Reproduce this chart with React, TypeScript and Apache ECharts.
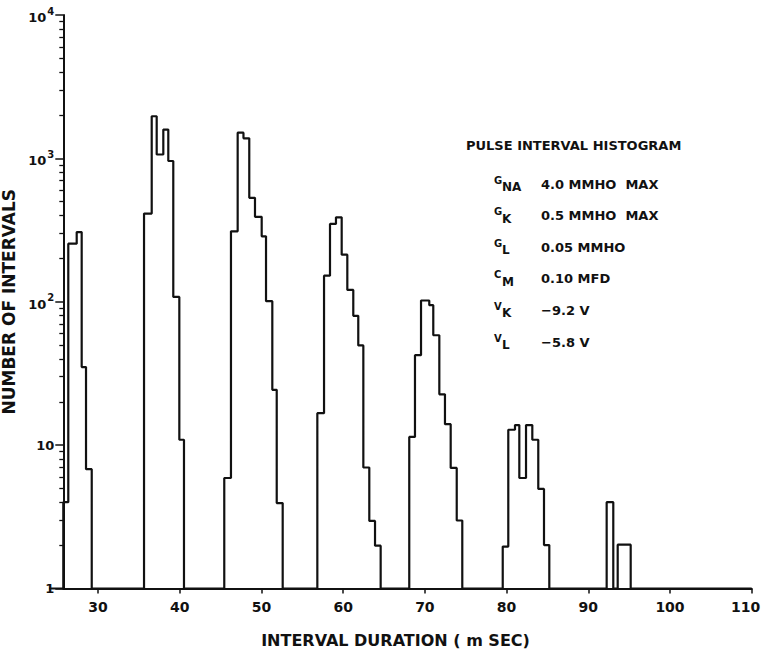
import React, { useEffect, useRef } from 'react';
import * as echarts from 'echarts';

// x tick labels (ms) and y decade ticks
const xTicks = [30, 40, 50, 60, 70, 80, 90, 100, 110];
const yTickValues = [1, 10, 100, 1000, 10000];
const yTickBases = ['1', '10', '10', '10', '10'];
const yTickExps = ['', '', '2', '3', '4'];
// log-paper minor tick multipliers inside each decade
const minorMultipliers = [2, 3, 4, 5, 6, 7, 8, 9];
const minorDecades = [1, 10, 100, 1000];

// histogram bin edges (ms) and counts for each cluster
const c1Edges = [25.75, 26.36, 27.39, 28.0, 28.53, 29.23];
const c1Counts = [4, 254, 306, 35, 6.8];
const c2Edges = [35.63, 36.57, 37.18, 37.99, 38.6, 39.21, 39.95, 40.52];
const c2Counts = [412, 1967, 1064, 1588, 959, 108, 10.9];
const c3Edges = [45.45, 46.27, 47.09, 47.8, 48.51, 49.21, 50.03, 50.56, 51.33, 51.87, 52.6];
const c3Counts = [5.9, 310, 1510, 1380, 531, 391, 286, 101, 24.3, 3.94];
const c4Edges = [56.84, 57.66, 58.39, 59.12, 59.82, 60.51, 61.24, 61.85, 62.47, 63.2, 63.9, 64.59];
const c4Counts = [16.7, 152, 349, 388, 213, 121, 79.8, 49.6, 6.98, 2.96, 1.99];
const c5Edges = [68.09, 68.79, 69.53, 70.54, 71.03, 71.77, 72.46, 73.16, 73.9, 74.58];
const c5Counts = [11.4, 42.4, 102, 94.7, 58.4, 22.6, 14.0, 6.93, 2.98];
const c6Edges = [79.53, 80.21, 81.03, 81.56, 82.38, 83.15, 83.88, 84.58, 85.23];
const c6Counts = [1.96, 12.8, 13.8, 5.9, 13.8, 10.9, 4.95, 2.01];
const c7Edges = [92.25, 93.06, 93.6, 95.19];
const c7Counts = [4.0, 1, 2.02];

const xMin = 25.75;
const xMax = 110;

// annotation text
const annotationTitle = 'PULSE INTERVAL HISTOGRAM';
const paramSymbols = ['G', 'G', 'G', 'C', 'V', 'V'];
const paramSubscripts = ['NA', 'K', 'L', 'M', 'K', 'L'];
const paramValues = ['4.0 MMHO  MAX', '0.5 MMHO  MAX', '0.05 MMHO', '0.10 MFD', '\u22129.2 V', '\u22125.8 V'];

const FONT = '"DejaVu Sans", "Liberation Sans", sans-serif';

function buildSteps(): [number, number][] {
  const clusters: [number[], number[]][] = [
    [c1Edges, c1Counts],
    [c2Edges, c2Counts],
    [c3Edges, c3Counts],
    [c4Edges, c4Counts],
    [c5Edges, c5Counts],
    [c6Edges, c6Counts],
    [c7Edges, c7Counts],
  ];
  const pts: [number, number][] = [[xMin, 1]];
  for (const [edges, counts] of clusters) {
    for (let i = 0; i < counts.length; i++) pts.push([edges[i], counts[i]]);
    pts.push([edges[edges.length - 1], 1]);
  }
  pts.push([xMax, 1]);
  return pts;
}

const GRID = { left: 63.3, right: 11.3, top: 15, bottom: 62.5 };

export default function App() {
  const ref = useRef<HTMLDivElement>(null);
  useEffect(() => {
    if (!ref.current) return;
    const chart = echarts.init(ref.current, null, { renderer: 'svg' });
    const rowY0 = 184;
    const rowStep = 31.6;
    const baseY = 651 - GRID.bottom;
    const graphics: any[] = [
      {
        type: 'line',
        shape: { x1: 49, y1: baseY, x2: GRID.left, y2: baseY },
        style: { stroke: '#111', lineWidth: 2 },
      },
      {
        type: 'text',
        x: 466,
        y: 145,
        style: { text: annotationTitle, font: `bold 13px ${FONT}`, fill: '#111', textVerticalAlign: 'middle' },
      },
    ];
    paramValues.forEach((val, i) => {
      const y = rowY0 + i * rowStep;
      graphics.push({
        type: 'text', x: 494, y: y - 4,
        style: { text: paramSymbols[i], font: `bold 10px ${FONT}`, fill: '#111', textVerticalAlign: 'middle' },
      });
      graphics.push({
        type: 'text', x: 502, y: y + 3,
        style: { text: paramSubscripts[i], font: `bold 12px ${FONT}`, fill: '#111', textVerticalAlign: 'middle' },
      });
      graphics.push({
        type: 'text', x: 541, y,
        style: { text: val, font: `bold 13px ${FONT}`, fill: '#111', textVerticalAlign: 'middle' },
      });
    });

    const minorValues: number[] = [];
    minorDecades.forEach((d) => minorMultipliers.forEach((m) => minorValues.push(d * m)));

    chart.setOption({
      animation: false,
      backgroundColor: '#fff',
      grid: { ...GRID, containLabel: false, outerBoundsMode: 'none' },
      xAxis: {
        type: 'value',
        min: xMin,
        max: xMax,
        name: 'INTERVAL DURATION ( m SEC)',
        nameLocation: 'middle',
        nameGap: 44,
        nameTextStyle: { fontFamily: FONT, fontWeight: 'bold', fontSize: 16, color: '#111', padding: [0, 24, 0, 0] },
        axisLine: { show: true, lineStyle: { color: '#111', width: 2 } },
        axisTick: { show: true, length: 5, lineStyle: { color: '#111', width: 1.5 }, customValues: xTicks },
        axisLabel: {
          color: '#111', fontFamily: FONT, fontWeight: 'bold', fontSize: 14, margin: 11,
          customValues: xTicks,
          formatter: (v: number) => (v === xTicks[xTicks.length - 1] ? `{r|${v}}` : `${v}`),
          rich: {
            r: { fontFamily: FONT, fontWeight: 'bold', fontSize: 14, color: '#111', padding: [0, 12, 0, 0] },
          },
        },
        splitLine: { show: false },
      },
      yAxis: [
        {
          type: 'log',
          logBase: 10,
          min: 1,
          max: 10000,
          name: 'NUMBER OF INTERVALS',
          nameLocation: 'middle',
          nameGap: 43,
          nameRotate: 90,
          nameTextStyle: { fontFamily: FONT, fontWeight: 'bold', fontSize: 17, color: '#111' },
          axisLine: { show: true, lineStyle: { color: '#111', width: 2 } },
          axisTick: { show: true, length: 8, lineStyle: { color: '#111', width: 1.5 }, customValues: yTickValues },
          axisLabel: {
            margin: 9,
            color: '#111',
            customValues: yTickValues,
            formatter: (v: number) => {
              const i = yTickValues.indexOf(Math.round(v));
              if (i < 0) return '';
              return yTickExps[i] ? `{b|${yTickBases[i]}}{s|${yTickExps[i]}}` : `{b|${yTickBases[i]}}`;
            },
            rich: {
              b: { fontFamily: FONT, fontWeight: 'bold', fontSize: 13, color: '#111', verticalAlign: 'bottom' },
              s: { fontFamily: FONT, fontWeight: 'bold', fontSize: 10, color: '#111', verticalAlign: 'top', padding: [0, 0, 8, 1] },
            },
          },
          splitLine: { show: false },
        },
        {
          type: 'log',
          logBase: 10,
          min: 1,
          max: 10000,
          position: 'left',
          axisLine: { show: false },
          axisTick: { show: true, length: 4, lineStyle: { color: '#111', width: 1.3 }, customValues: minorValues },
          axisLabel: { show: false },
          splitLine: { show: false },
        },
      ],
      series: [
        {
          type: 'line',
          step: 'end',
          yAxisIndex: 0,
          data: buildSteps(),
          symbol: 'none',
          showSymbol: false,
          lineStyle: { color: '#111', width: 2.2 },
          clip: true,
        },
      ],
      graphic: graphics,
    });
    return () => chart.dispose();
  }, []);
  return <div ref={ref} style={{ position: 'fixed', left: 0, top: 0, width: 763, height: 651 }} />;
}
